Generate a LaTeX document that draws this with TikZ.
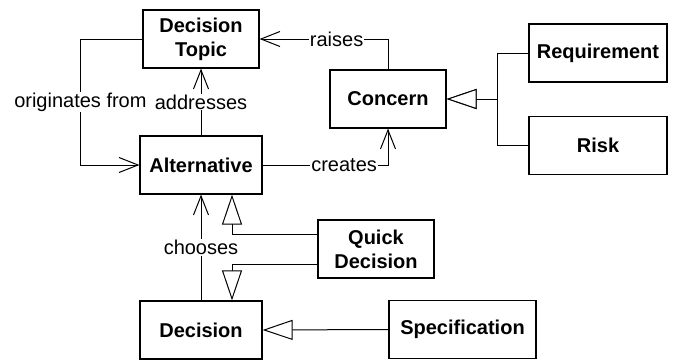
\documentclass[tikz,border=0pt]{standalone}
\usepackage{fontspec}
\setmainfont{Liberation Sans}
\usetikzlibrary{arrows.meta}
\tikzset{
        box/.style={draw, line width=0.6pt, align=center, font=\bfseries,
                minimum height=29pt, inner sep=0pt},
        assoc/.style={line width=0.5pt, -{Straight Barb[length=9.5pt,width=7.5pt]}},
        gen/.style={line width=0.5pt, -{Triangle[open,length=15pt,width=10pt,fill=white]}},
        lbl/.style={fill=white, inner sep=0.5pt, font=\normalfont}
}
\begin{document}
\begin{tikzpicture}[x=0.5pt, y=-0.5pt, font=\fontsize{9.8}{11.2}\selectfont]
        \useasboundingbox (0,0) rectangle (675,360);
        \node[box, minimum width=58pt] (topic) at (201,39) {Decision\\Topic};
        \node[box, minimum width=61pt] (alt) at (201,165) {Alternative};
        \node[box, minimum width=58pt] (concern) at (388,99) {Concern};
        \node[box, minimum width=69pt] (req) at (598,53) {Requirement};
        \node[box, minimum width=69pt] (risk) at (598,145.5) {Risk};
        \node[box, minimum width=58pt] (quick) at (376,249) {Quick\\Decision};
        \node[box, minimum width=61pt] (decision) at (201,330) {Decision};
        \node[box, minimum width=73.5pt] (spec) at (462.5,329.5) {Specification};

        \draw[assoc] (topic.west) -- ++(-31pt,0) |- (alt.west) node[pos=0.25,lbl]{originates from};
        \draw[assoc] (alt.north) -- (topic.south) node[midway,lbl]{addresses};
        \draw[assoc] (concern.north) |- (topic.east) node[pos=0.7,lbl]{raises};
        \draw[assoc] (alt.east) -| (concern.south) node[pos=0.325,lbl]{creates};
        \draw[assoc] (decision.north) -- (alt.south) node[midway,lbl]{chooses};

        \foreach \n in {req,risk}
        {
                \draw[gen] (\n.west) -- ++(-15.5pt,0) |- (concern.east);
        }
        \draw[gen] ([yshift=7.5pt]quick.west) -| ([xshift=15.5pt]alt.south);
        \draw[gen] ([yshift=-7.5pt]quick.west) -| ([xshift=15.5pt]decision.north);
        \draw[gen] (spec.west) -- (decision.east);
\end{tikzpicture}
\end{document}
